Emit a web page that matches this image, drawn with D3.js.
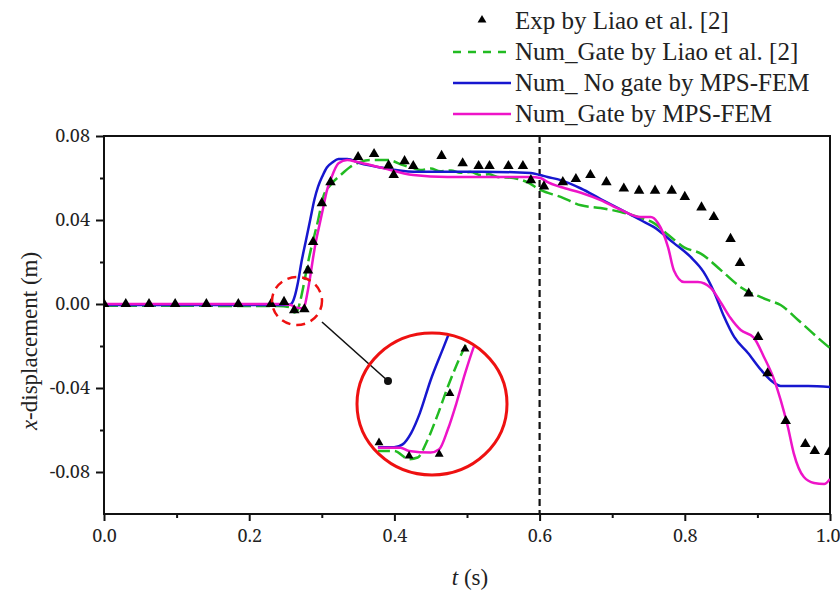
<!DOCTYPE html>
<html><head><meta charset="utf-8">
<script src="https://cdn.jsdelivr.net/npm/d3@7/dist/d3.min.js"></script>
<style>body{margin:0;background:#fff}svg{display:block}</style>
</head><body><svg id="c" width="840" height="590"></svg>
<script>
const seriesNames = ["Exp by Liao et al. [2]","Num_Gate by Liao et al. [2]","Num_ No gate by MPS-FEM","Num_Gate by MPS-FEM"];
const xTicks = [0,0.2,0.4,0.6,0.8,1.0];
const xMinor = [0.1,0.3,0.5,0.7,0.9];
const yTicks = [-0.08,-0.04,0,0.04,0.08];
const yMinor = [-0.06,-0.02,0.02,0.06];

const expT = [0.0,0.03,0.062,0.098,0.141,0.185,0.23,0.248,0.262,0.276,0.281,0.288,0.30,0.312,0.35,0.372,0.392,0.399,0.414,0.426,0.465,0.494,0.516,0.531,0.557,0.577,0.588,0.606,0.632,0.65,0.67,0.692,0.716,0.737,0.759,0.782,0.80,0.823,0.84,0.863,0.876,0.888,0.901,0.914,0.939,0.966,0.979,0.999];
const expY = [0,0,0,0,0,0,0,0.001,-0.003,-0.0025,0.016,0.0295,0.048,0.058,0.070,0.0714,0.066,0.0614,0.068,0.0657,0.0705,0.067,0.0657,0.0657,0.0657,0.0657,0.059,0.056,0.058,0.0595,0.0614,0.058,0.055,0.054,0.054,0.054,0.051,0.046,0.0414,0.031,0.0195,0.005,-0.0157,-0.033,-0.0557,-0.0667,-0.070,-0.0705];

const liaoT = [0,0.24,0.255,0.262,0.266,0.270,0.275,0.280,0.285,0.29,0.294,0.302,0.312,0.326,0.339,0.353,0.367,0.39,0.413,0.425,0.436,0.45,0.463,0.478,0.491,0.505,0.519,0.53,0.542,0.564,0.583,0.601,0.629,0.657,0.684,0.712,0.739,0.757,0.777,0.799,0.822,0.85,0.877,0.914,0.932,0.956,0.983,1.0];
const liaoY = [-0.0008,-0.001,-0.0015,-0.004,-0.0035,0.001,0.009,0.018,0.026,0.033,0.0385,0.051,0.0567,0.0614,0.0652,0.0676,0.0686,0.0686,0.066,0.0648,0.0638,0.0645,0.0632,0.0636,0.0625,0.0628,0.0614,0.0618,0.0605,0.060,0.058,0.0543,0.051,0.047,0.0457,0.0438,0.041,0.0386,0.033,0.027,0.024,0.016,0.008,0.002,-0.0005,-0.0076,-0.016,-0.021];

const noGateT = [0,0.24,0.255,0.259,0.263,0.267,0.272,0.278,0.284,0.290,0.295,0.301,0.307,0.315,0.323,0.335,0.353,0.381,0.426,0.473,0.519,0.588,0.601,0.611,0.629,0.657,0.684,0.712,0.739,0.757,0.785,0.808,0.826,0.84,0.854,0.868,0.887,0.905,0.923,0.932,0.97,1.0];
const noGateY = [-0.0005,-0.0005,-0.0004,0.0005,0.004,0.010,0.020,0.030,0.040,0.050,0.056,0.061,0.065,0.0675,0.069,0.069,0.067,0.065,0.063,0.063,0.063,0.0624,0.0614,0.0605,0.059,0.055,0.050,0.045,0.040,0.0367,0.029,0.0224,0.0152,0.006,-0.006,-0.0157,-0.0233,-0.0314,-0.0376,-0.039,-0.039,-0.0395];

const gateT = [0,0.2,0.24,0.258,0.262,0.272,0.276,0.280,0.284,0.288,0.292,0.297,0.302,0.307,0.312,0.323,0.335,0.349,0.381,0.426,0.473,0.519,0.588,0.601,0.611,0.629,0.657,0.684,0.712,0.739,0.753,0.763,0.777,0.785,0.799,0.818,0.836,0.85,0.863,0.877,0.895,0.909,0.923,0.932,0.942,0.95,0.964,0.978,0.992,1.0];
const gateY = [0,0,0,-0.0005,-0.0015,-0.002,-0.001,0.005,0.013,0.022,0.030,0.038,0.046,0.054,0.059,0.067,0.0686,0.0676,0.065,0.0614,0.0605,0.0605,0.0605,0.060,0.058,0.0557,0.053,0.0495,0.0448,0.0414,0.0414,0.0386,0.027,0.016,0.0105,0.0105,0.0076,0.0005,-0.0067,-0.0124,-0.016,-0.0252,-0.036,-0.0457,-0.0586,-0.071,-0.0824,-0.0852,-0.0857,-0.0833];

const colors = {liao:"#22bb22", noGate:"#1717cf", gate:"#ee14c8"};
const FONT = 'Liberation Serif, Noto Serif, serif';
const NUMFONT = 'Noto Serif';

const svg = d3.select("#c");
const x = d3.scaleLinear().domain([0,1]).range([104,830]);
const y = d3.scaleLinear().domain([-0.1,0.08]).range([514,136]);
const zip = (t,v)=>t.map((d,i)=>[d,v[i]]);
const liao = zip(liaoT,liaoY), noGate = zip(noGateT,noGateY), gate = zip(gateT,gateY), exp = zip(expT,expY);

svg.append("defs").append("clipPath").attr("id","plot").append("rect")
  .attr("x",104).attr("y",136).attr("width",726).attr("height",378);

// axes
const gx = svg.append("g").attr("transform","translate(0,514)")
  .call(d3.axisBottom(x).tickValues(xTicks).tickFormat(d=>d.toFixed(1)).tickSize(7).tickPadding(8));
svg.append("g").attr("transform","translate(0,514)")
  .call(d3.axisBottom(x).tickValues(xMinor).tickFormat("").tickSize(4));
const gy = svg.append("g").attr("transform","translate(104,0)")
  .call(d3.axisLeft(y).tickValues(yTicks).tickFormat(d=>d.toFixed(2)).tickSize(8).tickPadding(6));
svg.append("g").attr("transform","translate(104,0)")
  .call(d3.axisLeft(y).tickValues(yMinor).tickFormat("").tickSize(4));
svg.selectAll(".domain").remove();
svg.selectAll("g").attr("font-family",null).attr("font-size",null);
svg.selectAll(".tick line").attr("stroke","#111").attr("stroke-width",2);
svg.selectAll("g.tick text").attr("font-family",NUMFONT).attr("font-size",18).attr("fill","#222");
gx.selectAll("g.tick text").filter(d=>d===1).attr("text-anchor","end").attr("x",10);
// frame
svg.append("rect").attr("x",104).attr("y",136).attr("width",726).attr("height",378)
  .attr("fill","none").attr("stroke","#111").attr("stroke-width",2);

// dashed vertical at 0.6
svg.append("line").attr("x1",x(0.6)).attr("x2",x(0.6)).attr("y1",y(0.08)).attr("y2",y(-0.1))
  .attr("stroke","#111").attr("stroke-width",2.2).attr("stroke-dasharray","7,4");

const line = (sx,sy)=>d3.line().x(d=>sx(d[0])).y(d=>sy(d[1])).curve(d3.curveMonotoneX);
const pg = svg.append("g").attr("clip-path","url(#plot)");
pg.append("path").attr("d",line(x,y)(liao)).attr("fill","none").attr("stroke",colors.liao).attr("stroke-width",2.5).attr("stroke-dasharray","14,5");
pg.append("path").attr("d",line(x,y)(noGate)).attr("fill","none").attr("stroke",colors.noGate).attr("stroke-width",2.5);
pg.append("path").attr("d",line(x,y)(gate)).attr("fill","none").attr("stroke",colors.gate).attr("stroke-width",2.5);
const tri = d3.symbol().type(d3.symbolTriangle).size(48);
pg.selectAll("path.exp").data(exp).join("path").attr("class","exp")
  .attr("transform",d=>`translate(${x(d[0])},${y(d[1])})`).attr("d",tri).attr("fill","#000");

// zoom marker
svg.append("ellipse").attr("cx",297).attr("cy",301).attr("rx",25).attr("ry",24)
  .attr("fill","none").attr("stroke","#ee1111").attr("stroke-width",2.5).attr("stroke-dasharray","9,6");
svg.append("line").attr("x1",322).attr("y1",322).attr("x2",388).attr("y2",381).attr("stroke","#111").attr("stroke-width",1.6);
svg.append("circle").attr("cx",388).attr("cy",381).attr("r",4).attr("fill","#111");

// inset
const ix = d3.scaleLinear().domain([0.248,0.288]).range([379,465]);
const iy = d3.scaleLinear().domain([0,0.0295]).range([446,349]);
svg.select("defs").append("clipPath").attr("id","ins").append("ellipse")
  .attr("cx",432).attr("cy",404).attr("rx",74).attr("ry",70);
const ig = svg.append("g").attr("clip-path","url(#ins)");
const sub = arr => arr.filter(d=>d[0]>=0.246 && d[0]<=0.31);
const startClip = arr => { const s = sub(arr); return [[0.2475, s[0][1]]].concat(s.filter(d=>d[0]>0.2475)); };
const lin = d3.line().x(d=>ix(d[0])).y(d=>iy(d[1])).curve(d3.curveMonotoneX);
ig.append("path").attr("d",lin(startClip(liao))).attr("fill","none").attr("stroke",colors.liao).attr("stroke-width",2.5).attr("stroke-dasharray","12,5");
ig.append("path").attr("d",lin(startClip(noGate))).attr("fill","none").attr("stroke",colors.noGate).attr("stroke-width",2.5);
ig.append("path").attr("d",lin(startClip(gate))).attr("fill","none").attr("stroke",colors.gate).attr("stroke-width",2.5);
ig.selectAll("path.iexp").data(exp.filter(d=>d[0]>=0.246&&d[0]<=0.3)).join("path").attr("class","iexp")
  .attr("transform",d=>`translate(${ix(d[0])},${iy(d[1])})`).attr("d",d3.symbol().type(d3.symbolTriangle).size(34)).attr("fill","#000");
svg.append("ellipse").attr("cx",432).attr("cy",404).attr("rx",75).attr("ry",71)
  .attr("fill","none").attr("stroke","#ee1111").attr("stroke-width",3);

// axis titles
const yt = svg.append("text").attr("transform","translate(37,341) rotate(-90)").attr("text-anchor","middle")
  .attr("font-family",FONT).attr("font-size",23).attr("fill","#222");
yt.append("tspan").attr("font-style","italic").text("x");
yt.append("tspan").text("-displacement (m)");
const xt = svg.append("text").attr("x",470).attr("y",585).attr("text-anchor","middle")
  .attr("font-family",FONT).attr("font-size",23).attr("fill","#222");
xt.append("tspan").attr("font-style","italic").text("t");
xt.append("tspan").text(" (s)");

// legend
const lg = svg.append("g");
const rows = [29,60,91,122];
lg.append("path").attr("transform",`translate(482,${rows[0]-9})`).attr("d",d3.symbol().type(d3.symbolTriangle).size(34)).attr("fill","#000");
lg.append("line").attr("x1",453).attr("x2",511).attr("y1",rows[1]-8).attr("y2",rows[1]-8).attr("stroke",colors.liao).attr("stroke-width",2.5).attr("stroke-dasharray","8,7");
lg.append("line").attr("x1",453).attr("x2",511).attr("y1",rows[2]-8).attr("y2",rows[2]-8).attr("stroke",colors.noGate).attr("stroke-width",2.5);
lg.append("line").attr("x1",453).attr("x2",511).attr("y1",rows[3]-8).attr("y2",rows[3]-8).attr("stroke",colors.gate).attr("stroke-width",2.5);
seriesNames.forEach((n,i)=>{
  lg.append("text").attr("x",515).attr("y",rows[i]).attr("font-family",FONT).attr("font-size",25).attr("fill","#222").text(n);
});
</script></body></html>
